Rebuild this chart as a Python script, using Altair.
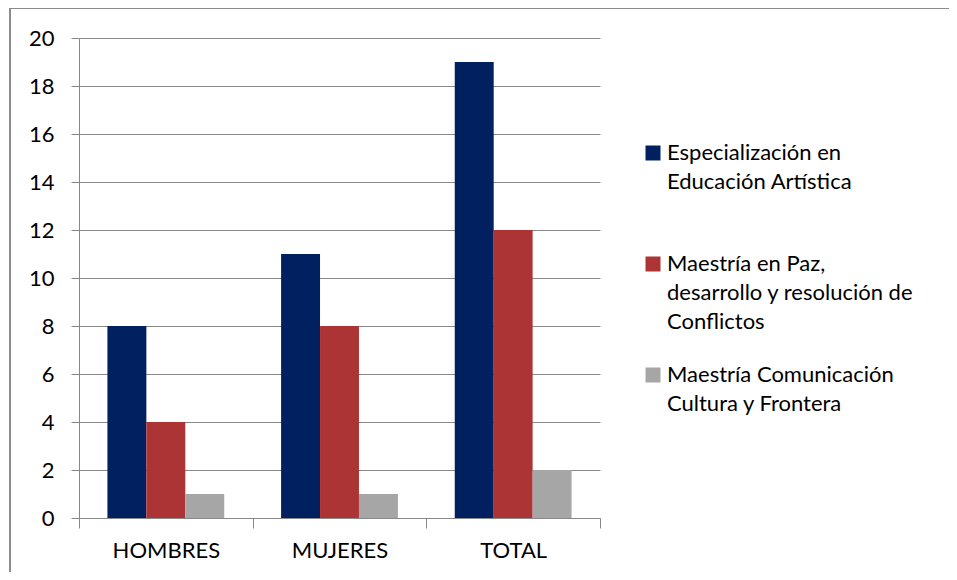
import altair as alt
import pandas as pd

categories = ["HOMBRES", "MUJERES", "TOTAL"]
series = [
    "Especialización en|Educación Artística|",
    "Maestría en Paz,|desarrollo y resolución de|Conflictos",
    "Maestría Comunicación|Cultura y Frontera|",
]
especializacion = [8, 11, 19]
maestria_paz = [4, 8, 12]
maestria_com = [1, 1, 2]
colors = ["#002060", "#AD3434", "#A6A6A6"]
y_ticks = [0, 2, 4, 6, 8, 10, 12, 14, 16, 18, 20]

rows = []
for s, vals in zip(series, [especializacion, maestria_paz, maestria_com]):
    for c, v in zip(categories, vals):
        rows.append({"grupo": c, "programa": s, "valor": v})
df = pd.DataFrame(rows)

FONT = "Lato"
FS = 22

bars = alt.Chart(df).mark_bar().encode(
    x=alt.X("grupo:N", sort=categories,
            scale=alt.Scale(paddingInner=0, paddingOuter=0),
            axis=alt.Axis(title=None, labelAngle=0, tickBand="extent",
                          domainColor="#888888", tickColor="#888888",
                          tickSize=10, labelFontSize=FS, labelPadding=12,
                          labelColor="black", labelFont=FONT, grid=False)),
    xOffset=alt.XOffset("programa:N", sort=series,
                        scale=alt.Scale(paddingInner=0, paddingOuter=0.73)),
    y=alt.Y("valor:Q", scale=alt.Scale(domain=[0, 20], nice=False),
            axis=alt.Axis(title=None, values=y_ticks, tickSize=8,
                          tickColor="#888888", domainColor="#888888",
                          gridColor="#888888", gridOpacity=1,
                          labelFontSize=FS, labelPadding=17,
                          labelColor="black", labelFont=FONT)),
    color=alt.Color("programa:N",
                    scale=alt.Scale(domain=series, range=colors),
                    legend=alt.Legend(title=None, orient="none",
                                      legendX=563, legendY=104,
                                      symbolType="square", symbolSize=225,
                                      symbolStrokeWidth=0, symbolOpacity=1,
                                      labelFontSize=FS, labelFont=FONT,
                                      labelColor="black", labelLimit=400,
                                      labelOffset=3, rowPadding=31,
                                      labelExpr="split(datum.label, '|')")),
)

frame_left = alt.Chart(df).mark_rule(color="#8C8C8C", strokeWidth=2).encode(
    x=alt.value(-69), y=alt.value(-30), y2=alt.value(560)
)
frame_top = alt.Chart(df).mark_rule(color="#8C8C8C", strokeWidth=2).encode(
    x=alt.value(-69), x2=alt.value(900), y=alt.value(-30)
)

chart = alt.layer(frame_left, frame_top, bars).properties(
    width=521, height=480,
    padding={"left": 71, "top": 30, "right": 349, "bottom": 54},
    autosize="none",
).configure(
    style={"guide-label": {"lineHeight": 29}}
).configure_view(strokeWidth=0)

chart.save("out.html", embed_options={"renderer": "svg", "actions": False})
